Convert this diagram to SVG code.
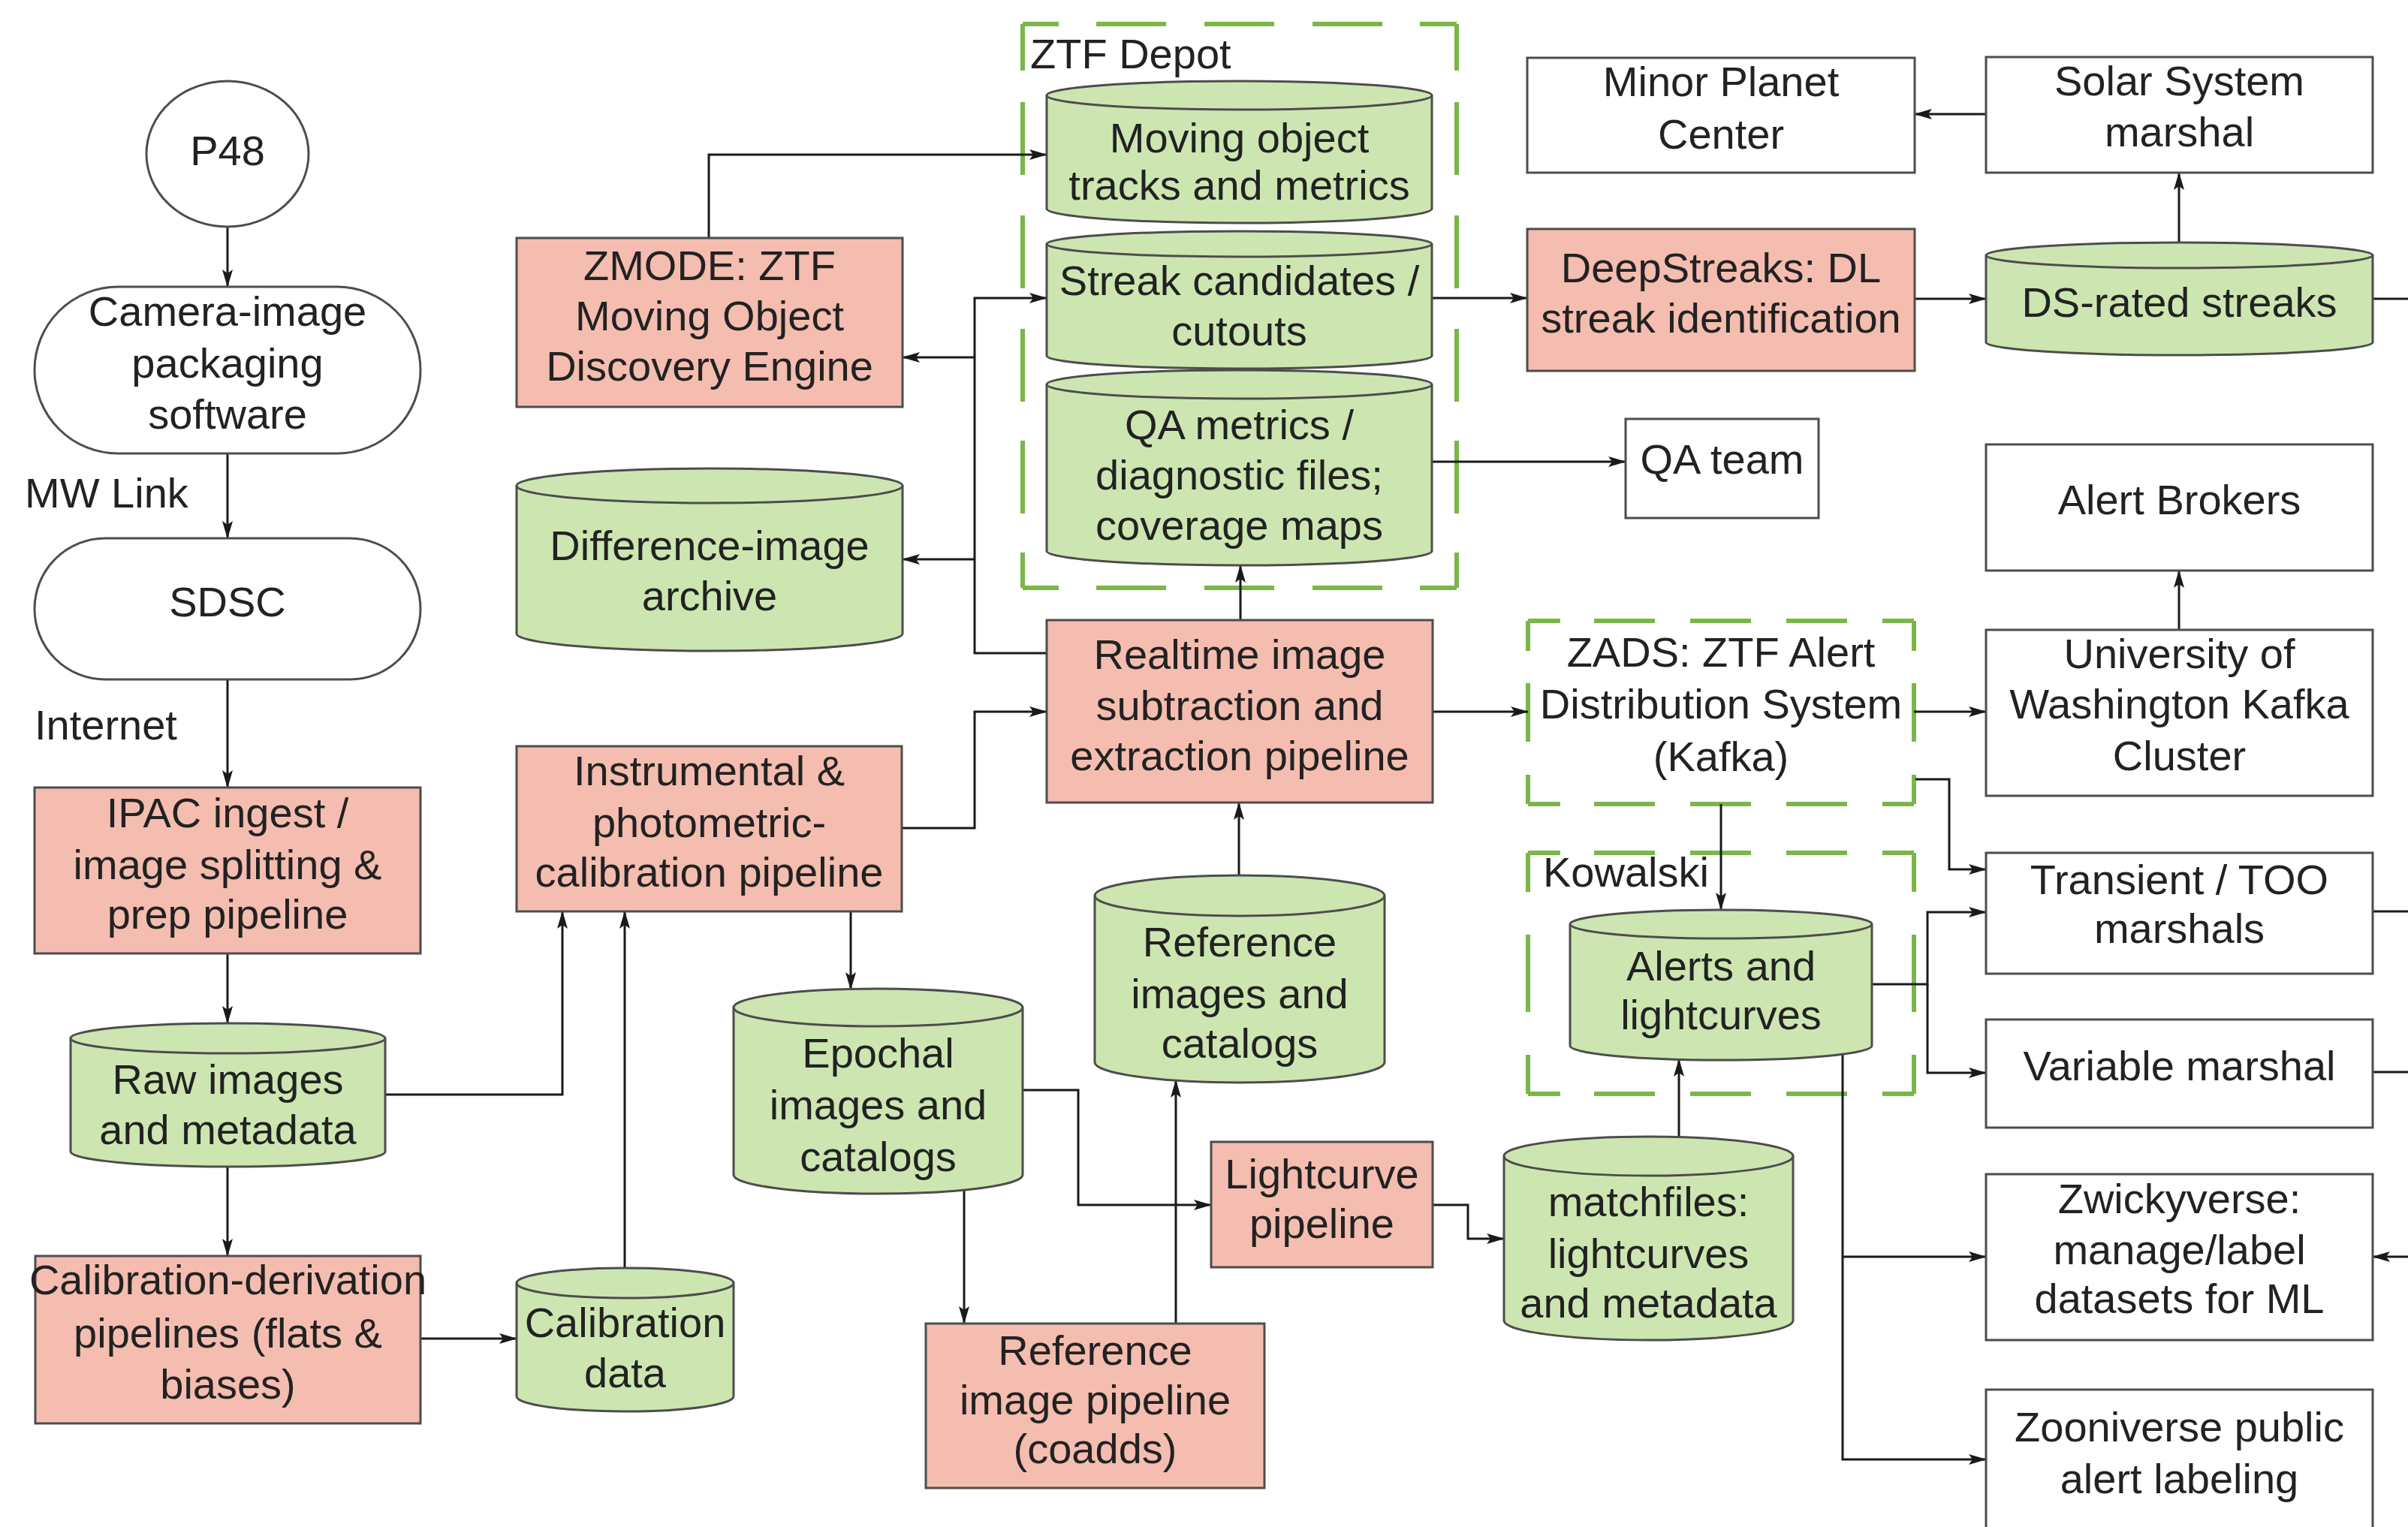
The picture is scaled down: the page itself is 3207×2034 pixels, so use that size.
<svg xmlns="http://www.w3.org/2000/svg" width="3207" height="2034" viewBox="0 0 3207 2034">
<defs>
<marker id="arr" viewBox="0 0 24 16" refX="23" refY="8" markerWidth="24" markerHeight="16" markerUnits="userSpaceOnUse" orient="auto">
<path d="M0,1 L24,8 L0,15 L5,8 z" fill="#1a1a1a"/>
</marker>
<style>
text{font-family:"Liberation Sans",Arial,sans-serif;font-size:56px;fill:#222222;}
.c{text-anchor:middle;}
.l{text-anchor:start;}
.box{stroke:#4d4d4d;stroke-width:3;}
.pink{fill:#F4BDB0;}
.green{fill:#CDE6B1;}
.white{fill:#ffffff;}
.rim{fill:none;stroke:#4d4d4d;stroke-width:3;}
.dash{stroke:#7AB648;stroke-width:6;fill:none;}
.edge{fill:none;stroke:#1a1a1a;stroke-width:3;}
.arrow{marker-end:url(#arr);}
</style>
</defs>
<rect width="3207" height="2034" fill="#ffffff"/>

<!-- group containers -->
<g id="n-depot">
<line class="dash" x1="1362" y1="32" x2="1940" y2="32" stroke-dasharray="48 50 93 51 93 51 93 50 49"/>
<line class="dash" x1="1362" y1="783" x2="1940" y2="783" stroke-dasharray="48 50 93 51 93 51 93 50 49"/>
<line class="dash" x1="1362" y1="32" x2="1362" y2="783" stroke-dasharray="62 42 97 54 97 54 97 52 97 52 47"/>
<line class="dash" x1="1940" y1="32" x2="1940" y2="783" stroke-dasharray="62 42 97 54 97 54 97 52 97 52 47"/>
<text class="l" x="1372" y="91">ZTF Depot</text>
</g>
<g id="n-zads">
<line class="dash" x1="2035" y1="827" x2="2549" y2="827" stroke-dasharray="43 45 81 47 81 47 81 47 42"/>
<line class="dash" x1="2035" y1="1071" x2="2549" y2="1071" stroke-dasharray="43 45 81 47 81 47 81 47 42"/>
<line class="dash" x1="2035" y1="827" x2="2035" y2="1071" stroke-dasharray="40 43 78 44 39"/>
<line class="dash" x1="2549" y1="827" x2="2549" y2="1071" stroke-dasharray="40 43 78 44 39"/>
<text class="c" x="2292" y="888">ZADS: ZTF Alert</text>
<text class="c" x="2292" y="957">Distribution System</text>
<text class="c" x="2292" y="1027">(Kafka)</text>
</g>
<g id="n-kowalski">
<line class="dash" x1="2035" y1="1136" x2="2549" y2="1136" stroke-dasharray="43 45 81 47 81 47 81 47 42"/>
<line class="dash" x1="2035" y1="1457" x2="2549" y2="1457" stroke-dasharray="43 45 81 47 81 47 81 47 42"/>
<line class="dash" x1="2035" y1="1136" x2="2035" y2="1457" stroke-dasharray="52 57 103 57 52"/>
<line class="dash" x1="2549" y1="1136" x2="2549" y2="1457" stroke-dasharray="52 57 103 57 52"/>
<text class="l" x="2055" y="1181">Kowalski</text>
</g>

<!-- connectors -->
<g id="connectors">
<path class="edge arrow" d="M303,302 V382"/>
<path class="edge arrow" d="M303,604 V717"/>
<path class="edge arrow" d="M303,905 V1049"/>
<path class="edge arrow" d="M303,1270 V1363"/>
<path class="edge arrow" d="M303,1554 V1673"/>
<path class="edge arrow" d="M560,1783 H688"/>
<path class="edge arrow" d="M513,1458 H749 V1214"/>
<path class="edge arrow" d="M832,1689 V1214"/>
<path class="edge arrow" d="M1133,1214 V1318"/>
<path class="edge arrow" d="M1201,1103 H1298 V948 H1394"/>
<path class="edge arrow" d="M1394,870 H1298 V397 H1394"/>
<path class="edge arrow" d="M1298,476 H1202"/>
<path class="edge arrow" d="M1298,745 H1202"/>
<path class="edge arrow" d="M944,317 V206 H1394"/>
<path class="edge arrow" d="M1652,826 V753"/>
<path class="edge arrow" d="M1907,397 H2034"/>
<path class="edge arrow" d="M2550,398 H2645"/>
<path class="edge arrow" d="M2902,323 V230"/>
<path class="edge arrow" d="M2645,152 H2550"/>
<path class="edge arrow" d="M1907,615 H2165"/>
<path class="edge arrow" d="M1908,948 H2035"/>
<path class="edge arrow" d="M2549,948 H2645"/>
<path class="edge arrow" d="M2902,839 V760"/>
<path class="edge arrow" d="M2551,1038 H2596 V1158 H2645"/>
<path class="edge arrow" d="M2292,1071 V1212"/>
<path class="edge arrow" d="M2493,1311 H2567 V1215 H2645"/>
<path class="edge arrow" d="M2567,1311 V1429 H2645"/>
<path class="edge arrow" d="M2454,1404 V1944 H2645"/>
<path class="edge arrow" d="M2454,1674 H2645"/>
<path class="edge arrow" d="M2236,1515 V1411"/>
<path class="edge arrow" d="M1362,1452 H1436 V1605 H1613"/>
<path class="edge arrow" d="M1908,1605 H1955 V1650 H2003"/>
<path class="edge arrow" d="M1566,1763 V1439"/>
<path class="edge arrow" d="M1650,1166 V1069"/>
<path class="edge arrow" d="M1284,1585 V1763"/>
<path class="edge" d="M3160,398 H3207"/>
<path class="edge" d="M3160,1214 H3207"/>
<path class="edge" d="M3160,1428 H3207"/>
<path class="edge arrow" d="M3207,1674 H3160"/>
<text class="l" x="33" y="676">MW Link</text>
<text class="l" x="46" y="985">Internet</text>
</g>

<!-- nodes -->
<g id="n-p48">
<ellipse cx="303" cy="205" rx="108" ry="97" class="box white"/>
<text class="c" x="303" y="220">P48</text>
</g>
<g id="n-camera">
<rect x="46" y="382" width="514" height="222" rx="111" ry="111" class="box white"/>
<text class="c" x="303" y="434">Camera-image</text>
<text class="c" x="303" y="503">packaging</text>
<text class="c" x="303" y="571">software</text>
</g>
<g id="n-sdsc">
<rect x="46" y="717" width="514" height="188" rx="94" ry="94" class="box white"/>
<text class="c" x="303" y="821">SDSC</text>
</g>
<g id="n-ipac">
<rect x="46" y="1049" width="514" height="221" class="box pink"/>
<text class="c" x="303" y="1102">IPAC ingest /</text>
<text class="c" x="303" y="1171">image splitting &amp;</text>
<text class="c" x="303" y="1237">prep pipeline</text>
</g>
<g id="n-raw">
<path class="box green" d="M94,1383 a209.5,20 0 0 1 419,0 V1534 a209.5,20 0 0 1 -419,0 Z"/>
<path class="rim" d="M94,1383 a209.5,20 0 0 0 419,0"/>
<text class="c" x="303.5" y="1457">Raw images</text>
<text class="c" x="303.5" y="1524">and metadata</text>
</g>
<g id="n-calderiv">
<rect x="47" y="1673" width="513" height="223" class="box pink"/>
<text class="c" x="303.5" y="1724">Calibration-derivation</text>
<text class="c" x="303.5" y="1795">pipelines (flats &amp;</text>
<text class="c" x="303.5" y="1863">biases)</text>
</g>
<g id="n-caldata">
<path class="box green" d="M688,1709 a144.5,20 0 0 1 289,0 V1860 a144.5,20 0 0 1 -289,0 Z"/>
<path class="rim" d="M688,1709 a144.5,20 0 0 0 289,0"/>
<text class="c" x="832.5" y="1781">Calibration</text>
<text class="c" x="832.5" y="1848">data</text>
</g>
<g id="n-zmode">
<rect x="688" y="317" width="514" height="225" class="box pink"/>
<text class="c" x="945" y="373">ZMODE: ZTF</text>
<text class="c" x="945" y="440">Moving Object</text>
<text class="c" x="945" y="507">Discovery Engine</text>
</g>
<g id="n-diff">
<path class="box green" d="M688,647 a257,23 0 0 1 514,0 V844 a257,23 0 0 1 -514,0 Z"/>
<path class="rim" d="M688,647 a257,23 0 0 0 514,0"/>
<text class="c" x="945" y="746">Difference-image</text>
<text class="c" x="945" y="813">archive</text>
</g>
<g id="n-instr">
<rect x="688" y="994" width="513" height="220" class="box pink"/>
<text class="c" x="944.5" y="1046">Instrumental &amp;</text>
<text class="c" x="944.5" y="1115">photometric-</text>
<text class="c" x="944.5" y="1181">calibration pipeline</text>
</g>
<g id="n-epochal">
<path class="box green" d="M977,1342 a192.5,25 0 0 1 385,0 V1565 a192.5,25 0 0 1 -385,0 Z"/>
<path class="rim" d="M977,1342 a192.5,25 0 0 0 385,0"/>
<text class="c" x="1169.5" y="1422">Epochal</text>
<text class="c" x="1169.5" y="1491">images and</text>
<text class="c" x="1169.5" y="1560">catalogs</text>
</g>
<g id="n-refpipe">
<rect x="1233" y="1763" width="451" height="219" class="box pink"/>
<text class="c" x="1458.5" y="1818">Reference</text>
<text class="c" x="1458.5" y="1884">image pipeline</text>
<text class="c" x="1458.5" y="1949">(coadds)</text>
</g>
<g id="n-refimg">
<path class="box green" d="M1458,1193 a193,27 0 0 1 386,0 V1415 a193,27 0 0 1 -386,0 Z"/>
<path class="rim" d="M1458,1193 a193,27 0 0 0 386,0"/>
<text class="c" x="1651" y="1274">Reference</text>
<text class="c" x="1651" y="1343">images and</text>
<text class="c" x="1651" y="1409">catalogs</text>
</g>
<g id="n-lightcurve">
<rect x="1613" y="1521" width="295" height="167" class="box pink"/>
<text class="c" x="1760.5" y="1583">Lightcurve</text>
<text class="c" x="1760.5" y="1649">pipeline</text>
</g>
<g id="n-matchfiles">
<path class="box green" d="M2003,1540 a192.5,26 0 0 1 385,0 V1759 a192.5,26 0 0 1 -385,0 Z"/>
<path class="rim" d="M2003,1540 a192.5,26 0 0 0 385,0"/>
<text class="c" x="2195.5" y="1620">matchfiles:</text>
<text class="c" x="2195.5" y="1689">lightcurves</text>
<text class="c" x="2195.5" y="1755">and metadata</text>
</g>
<g id="n-realtime">
<rect x="1394" y="826" width="514" height="243" class="box pink"/>
<text class="c" x="1651" y="891">Realtime image</text>
<text class="c" x="1651" y="959">subtraction and</text>
<text class="c" x="1651" y="1026">extraction pipeline</text>
</g>
<g id="n-moving">
<path class="box green" d="M1394,127 a256.5,19 0 0 1 513,0 V278 a256.5,19 0 0 1 -513,0 Z"/>
<path class="rim" d="M1394,127 a256.5,19 0 0 0 513,0"/>
<text class="c" x="1650.5" y="203">Moving object</text>
<text class="c" x="1650.5" y="266">tracks and metrics</text>
</g>
<g id="n-streak">
<path class="box green" d="M1394,325 a256.5,17 0 0 1 513,0 V474 a256.5,17 0 0 1 -513,0 Z"/>
<path class="rim" d="M1394,325 a256.5,17 0 0 0 513,0"/>
<text class="c" x="1650.5" y="393">Streak candidates /</text>
<text class="c" x="1650.5" y="460">cutouts</text>
</g>
<g id="n-qa">
<path class="box green" d="M1394,512 a256.5,19 0 0 1 513,0 V734 a256.5,19 0 0 1 -513,0 Z"/>
<path class="rim" d="M1394,512 a256.5,19 0 0 0 513,0"/>
<text class="c" x="1650.5" y="585">QA metrics /</text>
<text class="c" x="1650.5" y="652">diagnostic files;</text>
<text class="c" x="1650.5" y="719">coverage maps</text>
</g>
<g id="n-mpc">
<rect x="2034" y="77" width="516" height="153" class="box white"/>
<text class="c" x="2292" y="128">Minor Planet</text>
<text class="c" x="2292" y="198">Center</text>
</g>
<g id="n-deepstreaks">
<rect x="2034" y="305" width="516" height="189" class="box pink"/>
<text class="c" x="2292" y="376">DeepStreaks: DL</text>
<text class="c" x="2292" y="443">streak identification</text>
</g>
<g id="n-qateam">
<rect x="2165" y="558" width="257" height="132" class="box white"/>
<text class="c" x="2293.5" y="631">QA team</text>
</g>
<g id="n-solar">
<rect x="2645" y="76" width="515" height="154" class="box white"/>
<text class="c" x="2902.5" y="127">Solar System</text>
<text class="c" x="2902.5" y="195">marshal</text>
</g>
<g id="n-dsrated">
<path class="box green" d="M2645,340 a257.5,17 0 0 1 515,0 V456 a257.5,17 0 0 1 -515,0 Z"/>
<path class="rim" d="M2645,340 a257.5,17 0 0 0 515,0"/>
<text class="c" x="2902.5" y="422">DS-rated streaks</text>
</g>
<g id="n-brokers">
<rect x="2645" y="592" width="515" height="168" class="box white"/>
<text class="c" x="2902.5" y="685">Alert Brokers</text>
</g>
<g id="n-uw">
<rect x="2645" y="839" width="515" height="221" class="box white"/>
<text class="c" x="2902.5" y="890">University of</text>
<text class="c" x="2902.5" y="957">Washington Kafka</text>
<text class="c" x="2902.5" y="1026">Cluster</text>
</g>
<g id="n-alerts">
<path class="box green" d="M2091,1231 a201,19 0 0 1 402,0 V1393 a201,19 0 0 1 -402,0 Z"/>
<path class="rim" d="M2091,1231 a201,19 0 0 0 402,0"/>
<text class="c" x="2292" y="1306">Alerts and</text>
<text class="c" x="2292" y="1371">lightcurves</text>
</g>
<g id="n-transient">
<rect x="2645" y="1136" width="515" height="161" class="box white"/>
<text class="c" x="2902.5" y="1191">Transient / TOO</text>
<text class="c" x="2902.5" y="1256">marshals</text>
</g>
<g id="n-variable">
<rect x="2645" y="1358" width="515" height="144" class="box white"/>
<text class="c" x="2902.5" y="1439">Variable marshal</text>
</g>
<g id="n-zwicky">
<rect x="2645" y="1564" width="515" height="221" class="box white"/>
<text class="c" x="2902.5" y="1616">Zwickyverse:</text>
<text class="c" x="2902.5" y="1684">manage/label</text>
<text class="c" x="2902.5" y="1749">datasets for ML</text>
</g>
<g id="n-zooniverse">
<rect x="2645" y="1851" width="515" height="220" class="box white"/>
<text class="c" x="2902.5" y="1920">Zooniverse public</text>
<text class="c" x="2902.5" y="1989">alert labeling</text>
</g>
</svg>
